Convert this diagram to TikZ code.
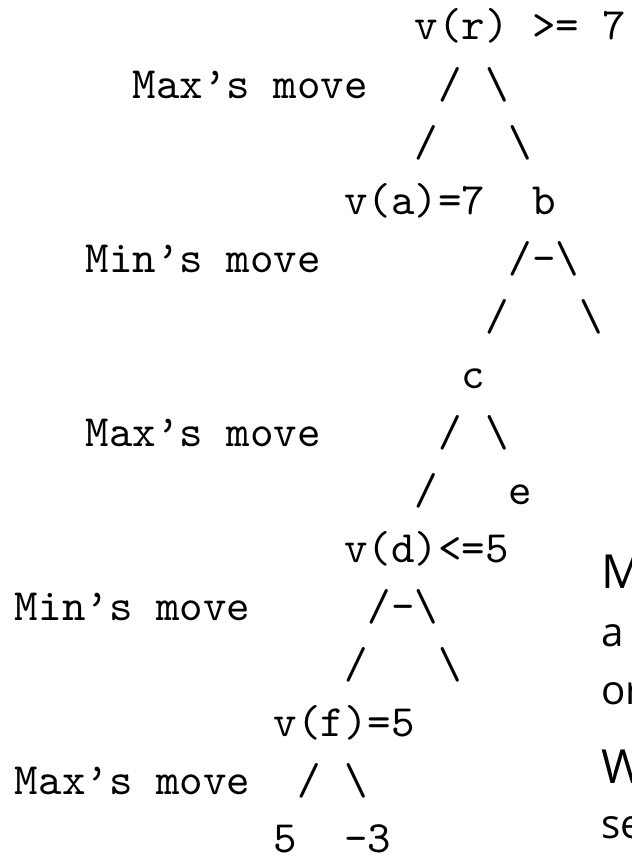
\documentclass[tikz,border=0pt]{standalone}
\usepackage{fontspec}
\newfontfamily\notefont{Open Sans}

\begin{document}
\begin{tikzpicture}[
  x=5.25pt,
  y=-12.97pt,
  font=\fontsize{10}{13}\selectfont\ttfamily,
  cell/.style={
    anchor=base west,
    inner sep=0pt,
    outer sep=0pt,
  },
  note/.style={
    cell,
    font=\fontsize{9}{12}\selectfont\notefont,
  },
  notehead/.style={
    cell,
    font=\fontsize{10.5}{12}\selectfont\notefont,
  },
]
\useasboundingbox (0,0) rectangle (141pt,-192.1pt);
\clip (0,0) rectangle (141pt,-192.1pt);

\begin{scope}[shift={(0.638,-0.311)}]
% --- root r ---
\node[cell] (r) at (17,1) {v(r) >= 7};
\node[cell] (MaxOne) at (5,2) {Max’s move};
\node[cell] (rA1) at (18,2) {/};
\node[cell] (rB1) at (20,2) {\textbackslash};
\node[cell] (rA2) at (17,3) {/};
\node[cell] (rB2) at (21,3) {\textbackslash};

% --- a and b ---
\node[cell] (a) at (14,4) {v(a)=7};
\node[cell] (b) at (22,4) {b};
\node[cell] (MinOne) at (3,5) {Min’s move};
\node[cell] (bCut) at (21,5) {/-\textbackslash};
\node[cell] (bC) at (20,6) {/};
\node[cell] (bX) at (24,6) {\textbackslash};

% --- c ---
\node[cell] (c) at (19,7) {c};
\node[cell] (MaxTwo) at (3,8) {Max’s move};
\node[cell] (cD1) at (18,8) {/};
\node[cell] (cE) at (20,8) {\textbackslash};
\node[cell] (cD2) at (17,9) {/};
\node[cell] (e) at (21,9) {e};

% --- d ---
\node[cell] (d) at (14,10) {v(d)<=5};
\node[cell] (MinTwo) at (0,11) {Min’s move};
\node[cell] (dCut) at (15,11) {/-\textbackslash};
\node[cell] (dF) at (14,12) {/};
\node[cell] (dX) at (18,12) {\textbackslash};

% --- f and leaves ---
\node[cell] (f) at (11,13) {v(f)=5};
\node[cell] (MaxThree) at (0,14) {Max’s move};
\node[cell] (fL) at (12,14) {/};
\node[cell] (fR) at (14,14) {\textbackslash};
\node[cell] (leafL) at (11,15) {5};
\node[cell] (leafR) at (14,15) {-3};

% --- text cut off at the right edge ---
\node[notehead] (noteM) at (24.95,10.45) {M};
\node[note] (noteA) at (24.95,11.45) {a};
\node[note] (noteOr) at (24.95,12.45) {or};
\node[notehead] (noteW) at (24.95,13.8) {W};
\node[note] (noteSe) at (24.95,14.75) {se};
\end{scope}

\end{tikzpicture}
\end{document}
